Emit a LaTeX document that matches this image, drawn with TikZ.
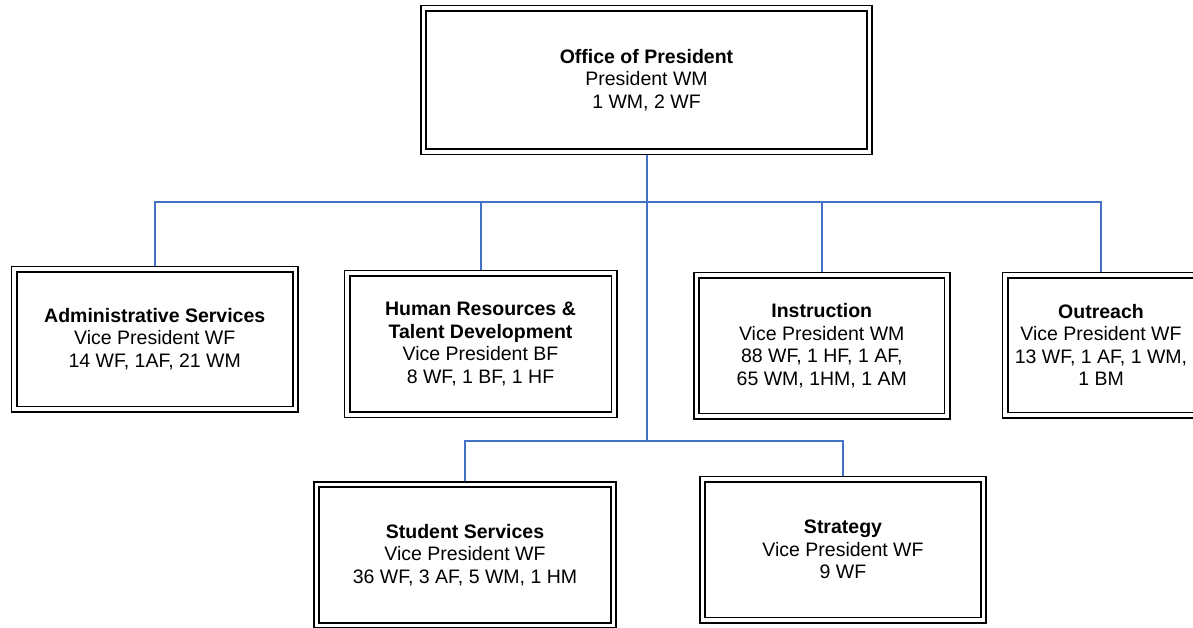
\documentclass[tikz,border=0pt]{standalone}
\usepackage{fontspec}
\setmainfont{Liberation Sans}
\usepackage{xcolor}
\definecolor{Col1}{RGB}{68,114,196}
\usepackage{tikz}
\tikzstyle{Box}=[rectangle,draw=black,line width=1.7pt,double=white,
double distance=3.6pt,fill=white,inner sep=0pt,outer sep=3.5pt,
align=center,font=\fontsize{19.5}{22.5}\selectfont]
\tikzstyle{Edge}=[draw=Col1,line width=2pt]

\begin{document}
\begin{tikzpicture}[x=1pt,y=-1pt]
        \useasboundingbox(0,0)rectangle(1193,627);
        \node[Box,minimum width=446,minimum height=143.5](Pres)at(646.5,80.00)
            {\textbf{Office of President}\\President WM\\1 WM, 2 WF};
        \node[Box,minimum width=281.5,minimum height=140](Admin)at(154.75,339.00)
            {\textbf{Administrative Services}\\Vice President WF\\14 WF, 1AF, 21 WM};
        \node[Box,minimum width=267,minimum height=141.5](HR)at(480.50,344.00)
            {\textbf{Human Resources \&}\\\textbf{Talent Development}\\
            Vice President BF\\8 WF, 1 BF, 1 HF};
        \node[Box,minimum width=250.5,minimum height=141](Instr)at(821.75,345.50)
            {\textbf{Instruction}\\Vice President WM\\88 WF, 1 HF, 1 AF,\\
            65 WM, 1HM, 1 AM};
        \node[Box,minimum width=192,minimum height=140](Outr)at(1101.00,345.00)
            {\textbf{Outreach}\\Vice President WF\\13 WF, 1 AF, 1 WM,\\1 BM};
        \node[Box,minimum width=297,minimum height=141](Stud)at(465.00,555.00)
            {\textbf{Student Services}\\Vice President WF\\36 WF, 3 AF, 5 WM, 1 HM};
        \node[Box,minimum width=281,minimum height=141](Strat)at(843.00,549.50)
            {\textbf{Strategy}\\Vice President WF\\9 WF};
        \coordinate(J1)at(646.5,201.5);
        \coordinate(J2)at(646.5,441.0);
        \draw[Edge](Pres)--(J2);
        \draw[Edge](J1)-|(Admin);
        \draw[Edge](J1)-|(HR);
        \draw[Edge](J1)-|(Instr);
        \draw[Edge](J1)-|(Outr);
        \draw[Edge](J2)-|(Stud);
        \draw[Edge](J2)-|(Strat);
    \end{tikzpicture}
\end{document}
